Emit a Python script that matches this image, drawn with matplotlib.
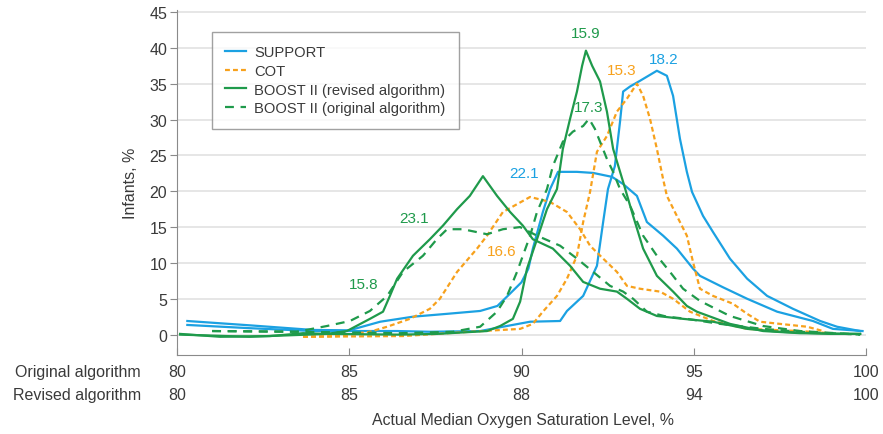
import matplotlib
matplotlib.use("Agg")
import matplotlib.pyplot as plt

plt.rcParams['font.family'] = ['Liberation Sans', 'DejaVu Sans']

# data (x = original algorithm scale, y = % infants)
support_low_x = [80.3, 82.1, 83.95, 85.0, 85.9, 86.85, 87.84, 88.8, 89.3, 89.6, 90.0, 90.2, 90.33,
                 90.62, 90.83, 91.06, 91.61, 92.08, 92.63, 92.95, 93.35, 93.64, 94.11, 94.51, 94.98,
                 95.18, 95.85, 96.55, 97.42, 98.46, 99.04, 99.9]
support_low_y = [1.9, 1.3, 0.65, 0.6, 1.8, 2.5, 2.9, 3.3, 4.0, 5.4, 7.3, 9.2, 12.0,
                 17.1, 20.3, 22.7, 22.7, 22.55, 22.0, 21.0, 19.35, 15.7, 13.8, 12.0, 9.2,
                 8.2, 6.6, 5.0, 3.2, 1.9, 0.8, 0.5]

support_high_x = [80.3, 82.1, 83.95, 86.39, 87.34, 88.8, 89.46, 90.25, 91.12, 91.32, 91.79, 92.19,
                  92.37, 92.51, 92.71, 92.86, 92.95, 93.15, 93.44, 93.93, 94.22, 94.4, 94.6, 94.8,
                  94.95, 95.27, 95.56, 96.05, 96.55, 97.13, 97.88, 98.67, 99.16, 99.83]
support_high_y = [1.35, 0.9, 0.5, 0.5, 0.4, 0.5, 1.1, 1.8, 1.9, 3.3, 5.4, 9.6,
                  15.7, 20.3, 23.5, 29.7, 33.9, 34.6, 35.4, 36.8, 36.1, 33.3, 27.3, 22.7,
                  19.9, 16.55, 14.3, 10.6, 7.8, 5.4, 3.6, 1.9, 1.1, 0.5]

cot_low_x = [83.66, 84.64, 85.6, 86.1, 86.76, 87.34, 87.63, 88.13, 88.71, 89.0, 89.46, 90.25,
             90.83, 91.32, 91.7, 91.99, 92.37, 92.77, 93.06, 93.44, 94.02, 94.4, 94.89, 95.56,
             96.55, 98.08, 98.96]
cot_low_y = [-0.3, -0.2, 0.4, 1.1, 2.2, 3.6, 5.0, 8.75, 12.0, 13.8, 17.1, 19.2,
             18.5, 17.1, 14.7, 12.4, 10.6, 8.75, 6.8, 6.4, 6.0, 5.0, 3.2, 1.9,
             0.8, 0.5, 0.2]

cot_high_x = [83.66, 86.56, 88.5, 89.96, 90.33, 90.62, 91.03, 91.32, 91.61, 91.79, 91.99, 92.19,
              92.48, 92.77, 93.06, 93.35, 93.53, 93.73, 93.93, 94.11, 94.22, 94.51, 94.8, 94.98,
              95.18, 95.56, 96.14, 96.55, 96.92, 97.5, 98.29, 98.75]
cot_high_y = [-0.3, -0.2, 0.4, 0.8, 1.5, 3.2, 5.4, 7.8, 11.0, 15.7, 19.9, 25.5,
              27.7, 31.1, 32.9, 35.0, 33.3, 30.1, 25.9, 21.7, 19.35, 16.55, 13.8, 10.1,
              6.4, 5.4, 4.3, 2.9, 1.8, 1.5, 1.1, 0.5]

boost_rev_low_x = [80.09, 81.25, 82.7, 83.66, 84.35, 84.93, 85.6, 85.98, 86.18, 86.39, 86.85, 87.34,
                   87.72, 88.13, 88.5, 88.88, 89.29, 89.67, 90.04, 90.33, 90.91, 91.41, 91.79, 92.28,
                   92.77, 93.06, 93.44, 93.93, 94.69, 95.56, 96.55, 97.5, 98.96, 99.83]
boost_rev_low_y = [0.1, -0.3, -0.2, 0.2, 0.1, 0.5, 2.2, 3.2, 5.4, 7.8, 11.0, 13.3,
                   15.2, 17.5, 19.35, 22.1, 19.35, 17.1, 15.2, 13.3, 12.0, 9.6, 7.35, 6.4,
                   6.0, 5.0, 3.6, 2.6, 2.2, 1.8, 0.8, 0.4, 0.1, 0.1]

boost_rev_high_x = [80.09, 82.1, 84.35, 86.47, 87.55, 89.0, 89.38, 89.75, 89.96, 90.16, 90.45, 90.74,
                    91.03, 91.2, 91.41, 91.61, 91.76, 91.87, 92.05, 92.28, 92.48, 92.66, 92.95, 93.24,
                    93.53, 93.93, 94.4, 94.8, 95.09, 96.05, 97.01, 98.08, 99.83]
boost_rev_high_y = [0.0, -0.3, 0.1, 0.0, 0.1, 0.5, 1.2, 2.2, 4.6, 9.2, 13.3, 17.5,
                    20.3, 25.9, 30.1, 33.9, 37.5, 39.6, 37.5, 35.3, 31.1, 25.9, 21.3, 16.55,
                    12.0, 8.2, 6.0, 4.0, 3.2, 1.5, 0.5, 0.2, 0.1]

boost_orig_low_x = [81.02, 83.48, 84.35, 85.02, 85.6, 86.1, 86.56, 87.14, 87.55, 87.84, 88.3, 89.0,
                    89.46, 89.96, 90.45, 91.12, 91.61, 92.08, 92.57, 92.95, 93.24, 93.64, 94.22, 94.8,
                    95.76, 97.01, 98.08, 99.83]
boost_orig_low_y = [0.5, 0.4, 1.2, 1.9, 3.3, 5.4, 8.75, 11.0, 13.35, 14.7, 14.7, 14.0,
                    14.7, 15.0, 13.8, 12.4, 10.6, 8.75, 6.8, 6.0, 5.0, 3.2, 2.5, 2.2,
                    1.5, 0.8, 0.4, 0.0]

boost_orig_high_x = [81.02, 83.48, 86.47, 88.01, 88.8, 89.29, 89.58, 89.87, 90.25, 90.45, 90.74, 90.91,
                     91.2, 91.49, 91.79, 91.96, 92.13, 92.28, 92.48, 92.66, 92.86, 93.15, 93.53, 93.93,
                     94.31, 94.69, 95.18, 96.05, 97.01, 98.08, 99.83]
boost_orig_high_y = [0.5, 0.4, 0.2, 0.4, 1.1, 3.2, 5.4, 8.75, 13.8, 17.1, 20.3, 23.5,
                     26.9, 28.3, 29.1, 30.1, 28.7, 26.9, 24.5, 22.7, 20.3, 18.0, 13.8, 11.0,
                     8.75, 6.4, 4.7, 2.6, 1.2, 0.5, 0.0]

peak_labels = ['15.9', '18.2', '15.3', '17.3', '22.1', '23.1', '16.6', '15.8']
ticks_original = ['80', '85', '90', '95', '100']
ticks_revised = ['80', '85', '88', '94', '100']
tick_pos = [80, 85, 90, 95, 100]

blue = '#1ba1e2'
orange = '#f7a11c'
green = '#1f9a4b'
txt = '#3a3a3a'

fig = plt.figure(figsize=(8.83, 4.35), dpi=100)
ax = fig.add_axes([177 / 883, 79.3 / 435, 689 / 883, 344.9 / 435])

lw = 1.6
joins = dict(solid_joinstyle='round', dash_joinstyle='round')
ax.plot(support_low_x, support_low_y, color=blue, lw=lw, label='SUPPORT', **joins)
ax.plot(support_high_x, support_high_y, color=blue, lw=lw, **joins)
ax.plot(cot_low_x, cot_low_y, color=orange, lw=lw, ls=(0, (2.2, 1.4)), label='COT', **joins)
ax.plot(cot_high_x, cot_high_y, color=orange, lw=lw, ls=(0, (2.2, 1.4)), **joins)
ax.plot(boost_rev_low_x, boost_rev_low_y, color=green, lw=lw, label='BOOST II (revised algorithm)', **joins)
ax.plot(boost_rev_high_x, boost_rev_high_y, color=green, lw=lw, **joins)
ax.plot(boost_orig_low_x, boost_orig_low_y, color=green, lw=lw, ls=(0, (4, 3)),
        label='BOOST II (original algorithm)', **joins)
ax.plot(boost_orig_high_x, boost_orig_high_y, color=green, lw=lw, ls=(0, (4, 3)), **joins)

# peak annotations
label_xy = [(91.85, 42.0), (94.12, 38.5), (92.9, 36.9), (91.96, 31.8),
            (90.07, 22.6), (86.87, 16.2), (89.43, 11.6), (85.41, 7.0)]
label_col = [green, blue, orange, green, blue, green, orange, green]
for s, (x, y), c in zip(peak_labels, label_xy, label_col):
    ax.text(x, y, s, color=c, fontsize=11, ha='center', va='center')

ax.set_xlim(80, 100)
ax.set_ylim(-2.8, 45.3)
ax.set_yticks(range(0, 46, 5))
ax.grid(axis='y', color='#e6e6e6', lw=1.4)
ax.set_axisbelow(True)
for side in ['top', 'right']:
    ax.spines[side].set_visible(False)
for side in ['left', 'bottom']:
    ax.spines[side].set_color('#8a8a8a')
ax.tick_params(axis='y', direction='out', length=5, color='#8a8a8a', labelsize=11.5,
               labelcolor=txt, pad=2)
ax.set_xticks(tick_pos)
ax.set_xticklabels([])
ax.tick_params(axis='x', direction='in', length=5, color='#8a8a8a')

# two rows of x tick labels
for p, a, b in zip(tick_pos, ticks_original, ticks_revised):
    ax.annotate(a, (p, 0), xycoords=('data', 'axes fraction'), xytext=(0, -12.3),
                textcoords='offset points', ha='center', va='center', fontsize=11.5, color=txt)
    ax.annotate(b, (p, 0), xycoords=('data', 'axes fraction'), xytext=(0, -29),
                textcoords='offset points', ha='center', va='center', fontsize=11.5, color=txt)
ax.annotate('Original algorithm', (0, 0), xycoords='axes fraction', xytext=(-26, -12.3),
            textcoords='offset points', ha='right', va='center', fontsize=11.5, color=txt)
ax.annotate('Revised algorithm', (0, 0), xycoords='axes fraction', xytext=(-26, -29),
            textcoords='offset points', ha='right', va='center', fontsize=11.5, color=txt)
ax.annotate('Actual Median Oxygen Saturation Level, %', (0.502, 0), xycoords='axes fraction',
            xytext=(0, -46.5), textcoords='offset points', ha='center', va='center',
            fontsize=11.4, color=txt)

ax.set_ylabel('Infants, %', fontsize=11.5, color=txt)
ax.yaxis.set_label_coords(-0.0566, 0.5)

leg = ax.legend(loc='upper left', bbox_to_anchor=(0.051, 0.936), borderaxespad=0,
                fontsize=10.6, frameon=True, fancybox=False, handlelength=1.4,
                handletextpad=0.55, labelspacing=0.32, borderpad=0.9)
leg.get_frame().set_edgecolor('#8a8a8a')
leg.get_frame().set_linewidth(1.0)
for t in leg.get_texts():
    t.set_color(txt)

fig.savefig('out.png', dpi=100)
